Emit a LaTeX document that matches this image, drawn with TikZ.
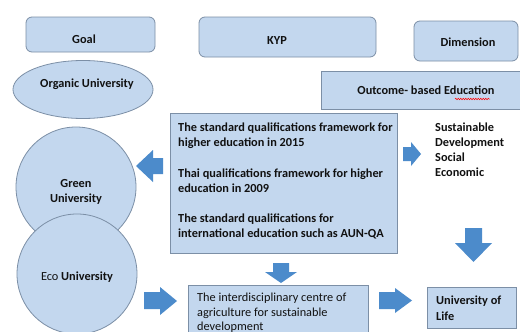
\documentclass[tikz,border=0pt]{standalone}
\usepackage{fontspec}
\setmainfont{Carlito}
\usetikzlibrary{shapes.geometric,decorations.pathmorphing}
\definecolor{boxfill}{HTML}{C3D7EE}
\definecolor{boxline}{HTML}{7C8FA6}
\definecolor{arrowfill}{HTML}{4C8BCB}
\definecolor{txt}{HTML}{111111}
\begin{document}
\begin{tikzpicture}[x=1pt,y=-1pt,
  box/.style={draw=boxline, fill=boxfill, line width=0.8pt, inner sep=0pt},
  rbox/.style={box, rounded corners=6pt},
  blockarrow/.style={fill=arrowfill, draw=none},
  bt/.style={font=\fontsize{12.3}{15}\selectfont\bfseries, text=txt, inner sep=0pt},
  rt/.style={font=\fontsize{12.3}{15}\selectfont, text=txt, inner sep=0pt},
  lb/.style={bt, anchor=base west},
  lr/.style={rt, anchor=base west}]
\useasboundingbox (0,0) rectangle (520,332);
\clip (0,0) rectangle (520,332);
\fill[white] (0,0) rectangle (520,332);

% header boxes
\node[rbox, minimum width=129pt, minimum height=35pt] (goal) at (90.5,34.5) {};
\node[bt] (goalt) at (84,39) {Goal};
\node[rbox, minimum width=177pt, minimum height=40pt] (kyp) at (287.5,37) {};
\node[bt] (kypt) at (277,41) {KYP};
\node[rbox, minimum width=104pt, minimum height=40pt] (dim) at (466,41) {};
\node[bt] (dimt) at (468,42) {Dimension};
\node[box, minimum width=204pt, minimum height=38pt] (obe) at (423,90) {};
\node[bt] (obet) at (426,90) {Outcome- based Education};
\draw[red, line width=0.5pt, decorate, decoration={snake, amplitude=0.8pt, segment length=2.5pt}] (455,99) -- (490,99);

% goal shapes
\node[box, ellipse, minimum width=140pt, minimum height=58pt] (organic) at (83,89.5) {};
\node[bt] (organict) at (87,84) {Organic University};
\node[box, circle, minimum size=120pt] (green) at (76,187) {};
\node[bt, align=center] (greent) at (76,192) {Green\\University};
\node[box, circle, minimum size=120pt] (eco) at (77,274) {};
\node[bt] (ecot) at (77,277) {\mdseries Eco \bfseries University};

% KYP main box
\node[box, minimum width=227pt, minimum height=140pt] (main) at (283.5,183) {};
\node[lb] (m1) at (178,131) {The standard qualifications framework for};
\node[lb] (m2) at (178,146) {higher education in 2015};
\node[lb] (m3) at (178,177) {Thai qualifications framework for higher};
\node[lb] (m4) at (178,192) {education in 2009};
\node[lb] (m5) at (178,222) {The standard qualifications for};
\node[lb] (m6) at (178,237) {international education such as AUN-QA};

% dimension text
\node[lb] (s1) at (435,131) {Sustainable};
\node[lb] (s2) at (435,146) {Development};
\node[lb] (s3) at (435,161) {Social};
\node[lb] (s4) at (435,176) {Economic};

% interdisciplinary box
\node[box, minimum width=180pt, minimum height=60pt] (inter) at (278,315) {};
\node[lr] (i1) at (197,301) {The interdisciplinary centre of};
\node[lr] (i2) at (197,316) {agriculture for sustainable};
\node[lr] (i3) at (197,330) {development};

% university of life
\node[box, minimum width=89pt, minimum height=41pt] (life) at (471.5,307.5) {};
\node[lb] (l1) at (436,304) {University of};
\node[lb] (l2) at (436,320) {Life};

% block arrows
\fill[blockarrow] (163,158) -- (153,158) -- (153,150) -- (136,166) -- (153,182) -- (153,174) -- (163,174) -- cycle;
\fill[blockarrow] (403,147) -- (411,147) -- (411,142) -- (421,154) -- (411,166) -- (411,161) -- (403,161) -- cycle;
\fill[blockarrow] (465,228) -- (482,228) -- (482,243) -- (492,243) -- (473.5,262) -- (455,243) -- (465,243) -- cycle;
\fill[blockarrow] (273,263) -- (289,263) -- (289,272) -- (297,272) -- (281,283) -- (265,272) -- (273,272) -- cycle;
\fill[blockarrow] (144,292) -- (160,292) -- (160,287) -- (177,301) -- (160,315) -- (160,309) -- (144,309) -- cycle;
\fill[blockarrow] (379,292) -- (395,292) -- (395,288) -- (412,300.5) -- (395,313) -- (395,309) -- (379,309) -- cycle;
\end{tikzpicture}
\end{document}
